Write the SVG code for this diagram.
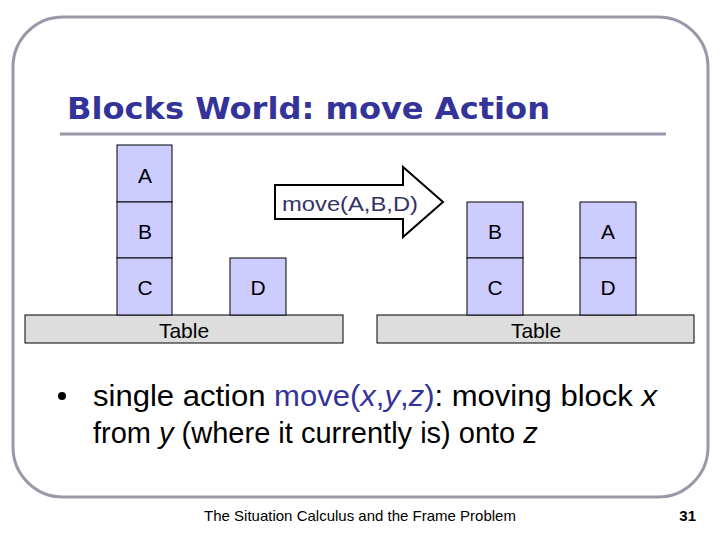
<svg xmlns="http://www.w3.org/2000/svg" width="720" height="540" viewBox="0 0 720 540">
<style>
.blk{fill:#ccccff;stroke:#000;stroke-width:1}
.tbl{fill:#dddddd;stroke:#000;stroke-width:1}
.lbl{font-family:"Liberation Sans",Arial,sans-serif;font-size:21px;fill:#000;text-anchor:middle}
.body{font-family:"Liberation Sans",Arial,sans-serif;font-size:29px;fill:#000}
.hl{fill:#333399}
</style>
<rect width="720" height="540" fill="#fff"/>
<rect x="13" y="17" width="695" height="480" rx="50" ry="50" fill="none" stroke="#9898a8" stroke-width="3"/>
<text x="67" y="119" font-family="DejaVu Sans,Verdana,sans-serif" font-weight="bold" font-size="30" fill="#333399" textLength="483" lengthAdjust="spacingAndGlyphs">Blocks World: move Action</text>
<line x1="60" y1="134" x2="666" y2="134" stroke="#9898a8" stroke-width="3"/>
<g id="tableL"><rect class="tbl" x="25" y="315" width="318" height="28"/><text class="lbl" x="184" y="338">Table</text></g>
<g id="tableR"><rect class="tbl" x="377" y="315" width="317" height="28"/><text class="lbl" x="536" y="338">Table</text></g>
<g id="A1"><rect class="blk" x="117" y="145" width="55" height="57"/><text class="lbl" x="145" y="183">A</text></g>
<g id="B1"><rect class="blk" x="117" y="202" width="55" height="56"/><text class="lbl" x="145" y="239">B</text></g>
<g id="C1"><rect class="blk" x="117" y="258" width="55" height="57"/><text class="lbl" x="145" y="295">C</text></g>
<g id="D1"><rect class="blk" x="230" y="258" width="56" height="57"/><text class="lbl" x="258" y="295">D</text></g>
<g id="B2"><rect class="blk" x="467" y="202" width="56" height="56"/><text class="lbl" x="495" y="239">B</text></g>
<g id="C2"><rect class="blk" x="467" y="258" width="56" height="57"/><text class="lbl" x="495" y="295">C</text></g>
<g id="A2"><rect class="blk" x="580" y="202" width="56" height="56"/><text class="lbl" x="608" y="239">A</text></g>
<g id="D2"><rect class="blk" x="580" y="258" width="56" height="57"/><text class="lbl" x="608" y="295">D</text></g>
<g id="arrow"><polygon points="275,185 403,185 403,167 443,202 403,237 403,219 275,219" fill="#fff" stroke="#000" stroke-width="2"/><text x="350" y="211" font-family="Liberation Sans,Arial,sans-serif" font-size="21" fill="#333366" text-anchor="middle" textLength="136" lengthAdjust="spacingAndGlyphs">move(A,B,D)</text></g>
<circle cx="62" cy="396" r="4" fill="#000"/>
<text class="body" x="93" y="406" textLength="564" lengthAdjust="spacingAndGlyphs">single action <tspan class="hl">move(</tspan><tspan class="hl" font-style="italic">x</tspan><tspan class="hl">,</tspan><tspan class="hl" font-style="italic">y</tspan><tspan class="hl">,</tspan><tspan class="hl" font-style="italic">z</tspan><tspan class="hl">)</tspan>: moving block <tspan font-style="italic">x</tspan></text>
<text class="body" x="93" y="443">from <tspan font-style="italic">y</tspan> (where it currently is) onto <tspan font-style="italic">z</tspan></text>
<text x="360" y="521" font-family="Liberation Sans,Arial,sans-serif" font-size="15" fill="#000" text-anchor="middle">The Situation Calculus and the Frame Problem</text>
<text x="696" y="521" font-family="Liberation Sans,Arial,sans-serif" font-size="15" font-weight="bold" fill="#000" text-anchor="end">31</text>
</svg>
